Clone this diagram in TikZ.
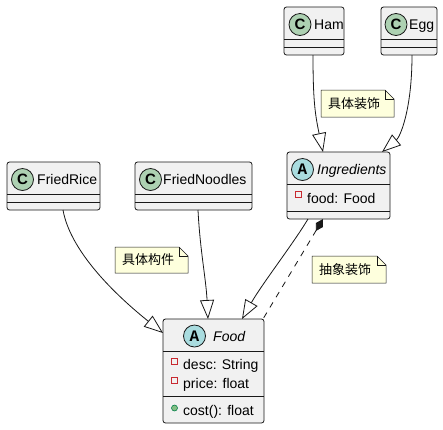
\documentclass[tikz,border=0pt]{standalone}
\usepackage{fontspec}
\setmainfont{Liberation Sans}
\setsansfont{Liberation Sans}
\setmonofont{Liberation Mono}
\newfontfamily\cjk{Noto Sans CJK SC}
\usetikzlibrary{arrows.meta}

\definecolor{umlline}{HTML}{181818}
\definecolor{umlbox}{HTML}{F1F1F1}
\definecolor{umlnote}{HTML}{FEFFDD}
\definecolor{spotC}{HTML}{ADD1B2}
\definecolor{spotA}{HTML}{A9DCDF}
\definecolor{privred}{HTML}{C82930}
\definecolor{pubgreen}{HTML}{84BE84}
\definecolor{pubdark}{HTML}{038048}

\tikzset{
  classbox/.style={draw=umlline, fill=umlbox, line width=0.8pt, rounded corners=2.5pt,
    inner sep=0pt, outer sep=0pt, anchor=north west},
  classline/.style={draw=umlline, line width=0.8pt},
  spot/.style={circle, draw=umlline, line width=0.8pt, minimum size=22pt, inner sep=0pt},
  classname/.style={anchor=base west, inner sep=0pt, font=\fontsize{14}{16}\selectfont},
  member/.style={anchor=base west, inner sep=0pt, font=\fontsize{14}{16}\selectfont},
  privicon/.style={draw=privred, line width=0.8pt, minimum size=6pt, inner sep=0pt},
  pubicon/.style={circle, draw=pubdark, fill=pubgreen, line width=0.6pt, minimum size=6pt, inner sep=0pt},
  notebox/.style={draw=umlline, fill=umlnote, line width=0.5pt},
  notetext/.style={anchor=west, inner sep=0pt, font=\cjk\fontsize{13}{15}\selectfont},
  extends/.style={draw=umlline, line width=0.8pt,
    -{Triangle[length=19pt,width=14pt,fill=white,line width=0.8pt]}},
  aggr/.style={draw=umlline, line width=0.8pt, dash pattern=on 6pt off 6pt,
    {Diamond[length=14pt,width=8pt,fill=umlline]}-}
}

\begin{document}
\begin{tikzpicture}[x=1pt, y=-1pt]
	\fill[white] (0,0) rectangle (443,429);
	\useasboundingbox (0,0) rectangle (443,429);
	
	% class boxes
	\foreach \n/\x/\y/\w/\h/\sa/\sb in
	{ham/284/7/60/48/32/40, egg/381/7/56/48/32/40, rice/7/162/93/48/32/40,
	 noodles/135/162/117/48/32/40, ingr/287/152/103/67/32/59, food/163/319/101/104/32/77}{
		\node[classbox, minimum width=\w*1pt, minimum height=\h*1pt] (\n) at (\x,\y) {};
		\draw[classline] ([yshift=-\sa*1pt]\n.north west) -- ([yshift=-\sa*1pt]\n.north east);
		\draw[classline] ([yshift=-\sb*1pt]\n.north west) -- ([yshift=-\sb*1pt]\n.north east);
	}
	
	% headers (concrete)
	\foreach \n/\cx/\cy/\tx/\by/\t in
	{ham/300/24.5/314/29/Ham, egg/396/24.5/409/29/Egg,
	 rice/22.5/179.5/37/184/FriedRice, noodles/150.5/179.5/163/184/FriedNoodles}{
		\node[spot, fill=spotC, font=\sffamily\bfseries\fontsize{15}{15}\selectfont] (spot\n) at (\cx,\cy) {C};
		\node[classname] (name\n) at (\tx,\by) {\t};
	}
	
	% headers (abstract)
	\foreach \n/\cx/\cy/\tx/\by/\t in
	{ingr/302.5/169.5/317/174/Ingredients, food/194.5/336/213/341/Food}{
		\node[spot, fill=spotA, font=\ttfamily\bfseries\fontsize{16}{16}\selectfont] (spot\n) at (\cx,\cy) {A};
		\node[classname, font=\itshape\fontsize{14}{16}\selectfont] (name\n) at (\tx,\by) {\t};
	}
	
	% members
	\node[privicon] (icondesc) at (174.5,361) {};
	\node[member] (desc) at (183,369) {desc: String};
	\node[privicon] (iconprice) at (174.5,380) {};
	\node[member] (price) at (183,388) {price: float};
	\node[pubicon] (iconcost) at (174.5,408) {};
	\node[member] (cost) at (183,415) {cost(): float};
	\node[privicon] (iconfood) at (298.5,194.5) {};
	\node[member] (fieldfood) at (307,203) {food: Food};
	
	% notes
	\foreach \n/\xa/\ya/\xb/\yb/\t in
	{notedeco/321/90/394/117/具体装饰, noteconc/115/247/188/273/具体构件,
	 noteabs/312/256/386/283/抽象装饰}{
		\filldraw[notebox] (\xa,\ya) -- (\xb-9,\ya) -- (\xb,\ya+9) -- (\xb,\yb) -- (\xa,\yb) -- cycle;
		\draw[notebox, fill=none] (\xb-9,\ya) -- (\xb-9,\ya+9) -- (\xb,\ya+9);
		\node[notetext] (\n) at (\xa+7,{(\ya+\yb)/2}) {\t};
	}
	
	% links
	\draw[extends] ([xshift=-1pt]ham.south) .. controls +(0,45) and +(-8,-38) .. ([xshift=-15.5pt]ingr.north);
	\draw[extends] ([xshift=3pt]egg.south) .. controls +(0,55) and +(18,-15) .. ([xshift=43.5pt]ingr.north);
	\draw[extends] ([xshift=9.5pt]rice.south) .. controls +(8,45) and +(-40,-32) .. ([yshift=38pt]food.west);
	\draw[extends] ([xshift=4.5pt]noodles.south) .. controls +(2,40) and +(-2,-40) .. ([xshift=-5.5pt]food.north);
	\draw[extends] ([xshift=-30.5pt]ingr.south) .. controls +(-15,25) and +(20,-35) .. ([xshift=28.5pt]food.north);
	\draw[aggr] ([xshift=-15.5pt]ingr.south) -- ([xshift=49.5pt]food.north);
\end{tikzpicture}
\end{document}
